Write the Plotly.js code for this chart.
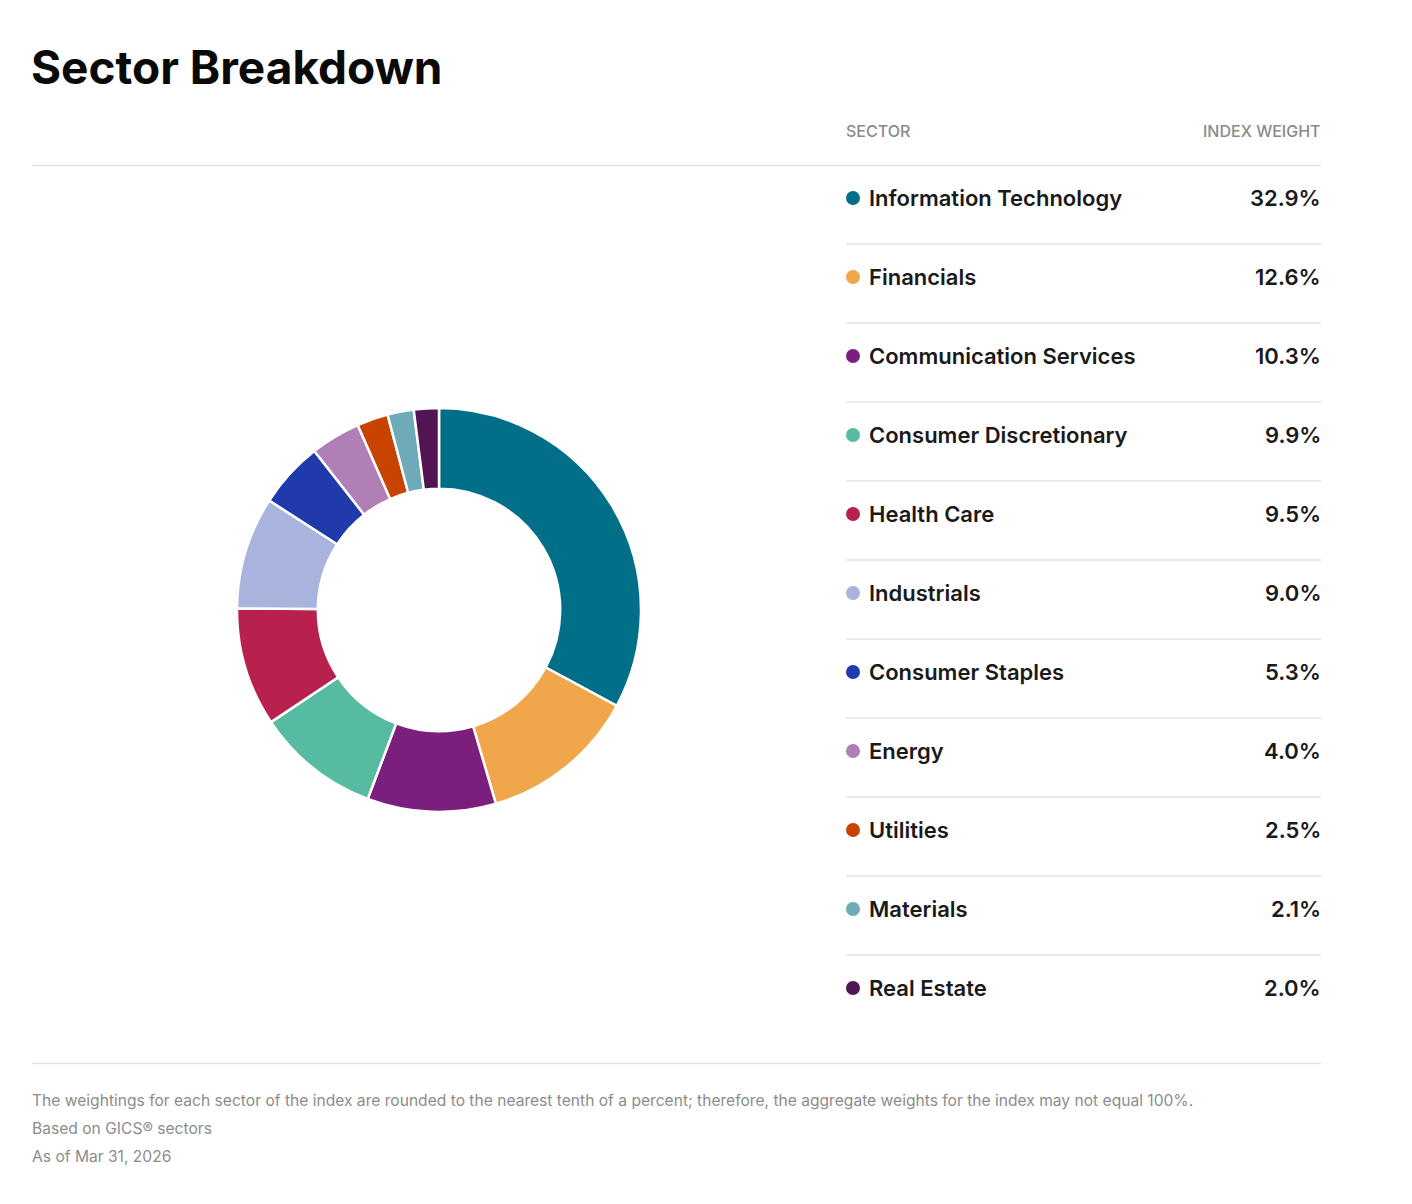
<!DOCTYPE html>
<html>
<head>
<meta charset="utf-8">
<script src="https://cdn.plot.ly/plotly-3.0.1.min.js"></script>
<style>
html,body{margin:0;padding:0;background:#fff;}
#chart{width:1412px;height:1204px;}
</style>
</head>
<body>
<div id="chart"></div>
<script>
// ---- data ----
var sectors = ["Information Technology","Financials","Communication Services","Consumer Discretionary","Health Care","Industrials","Consumer Staples","Energy","Utilities","Materials","Real Estate"];
var weights = [32.9,12.6,10.3,9.9,9.5,9.0,5.3,4.0,2.5,2.1,2.0];
var colors = ["#016F87","#F0A64A","#7A1F7E","#56BBA1","#B8204E","#A9B4DE","#1F3AAA","#B07FB6","#C84200","#6FAAB9","#521452"];
var titleText = "Sector Breakdown";
var headerLeft = "SECTOR";
var headerRight = "INDEX WEIGHT";
var footnotes = [
  "The weightings for each sector of the index are rounded to the nearest tenth of a percent; therefore, the aggregate weights for the index may not equal 100%.",
  "Based on GICS\u00ae sectors",
  "As of Mar 31, 2026"
];

// ---- layout helpers (pixel frame) ----
var W = 1412, H = 1204;
var FONT = "Inter, 'Liberation Sans', Arial, sans-serif";
var rowY0 = 198, rowStep = 79.0;
var tableL = 846, tableR = 1321;
var rowYs = sectors.map(function(_, i){ return rowY0 + rowStep * i; });

var pie = {
  type: "pie",
  labels: sectors,
  values: weights,
  sort: false,
  direction: "clockwise",
  rotation: 0,
  hole: 0.6,
  textinfo: "none",
  hoverinfo: "label+value",
  marker: {colors: colors, line: {color: "#ffffff", width: 2.5}},
  domain: {x: [237/W, 641/W], y: [1 - 812/H, 1 - 408/H]},
  showlegend: false
};

var dots = {
  type: "scatter",
  mode: "markers",
  x: sectors.map(function(){ return tableL + 7; }),
  y: rowYs,
  marker: {color: colors, size: 14, line: {width: 0}},
  hoverinfo: "skip",
  showlegend: false,
  xaxis: "x", yaxis: "y"
};

var annotations = [];
var shapes = [];
function ann(o){ o.xref="x"; o.yref="y"; o.showarrow=false; o.borderpad=0; o.borderwidth=0; annotations.push(o); }

// header
ann({x: tableL, y: 131, text: headerLeft, xanchor:"left", yanchor:"middle",
  font:{family:FONT, size:16, color:"#8a8a8a", weight:500}});
ann({x: tableR, y: 131, text: headerRight, xanchor:"right", yanchor:"middle",
  font:{family:FONT, size:16, color:"#8a8a8a", weight:500}});

// rows
sectors.forEach(function(s, i){
  ann({x: tableL + 23, y: rowYs[i], text: s, xanchor:"left", yanchor:"middle",
    font:{family:FONT, size:22, color:"#1a1a1a", weight:600}});
  ann({x: tableR, y: rowYs[i], text: weights[i].toFixed(1) + "%", xanchor:"right", yanchor:"middle",
    font:{family:FONT, size:22, color:"#1a1a1a", weight:600}});
  if (i < sectors.length - 1) {
    var yy = rowYs[i] + rowStep / 2 + 6.5;
    shapes.push({type:"line", xref:"x", yref:"y", x0: tableL, x1: tableR, y0: yy, y1: yy, line:{color:"#d4d4d4", width:1}});
  }
});

// full-width rules
shapes.push({type:"line", xref:"x", yref:"y", x0: 32, x1: tableR, y0: 165.5, y1: 165.5, line:{color:"#e2e2e2", width:1.5}});
shapes.push({type:"line", xref:"x", yref:"y", x0: 32, x1: tableR, y0: 1063.5, y1: 1063.5, line:{color:"#e2e2e2", width:1.5}});

// footnotes
footnotes.forEach(function(t, i){
  ann({x: 32, y: 1100 + 28 * i, text: t, xanchor:"left", yanchor:"middle",
    font:{family:FONT, size:15.6, color:"#8c8c8c", weight:400}});
});

var layout = {
  width: W, height: H,
  margin: {l:0, r:0, t:0, b:0, pad:0},
  paper_bgcolor: "#ffffff",
  plot_bgcolor: "rgba(0,0,0,0)",
  title: {text: titleText, xref:"container", yref:"container", x: 31/W, xanchor:"left", y: 1 - 68/H, yanchor:"middle",
    font:{family:FONT, size:46, color:"#0a0a0a", weight:700}},
  xaxis: {range:[0, W], domain:[0,1], visible:false, fixedrange:true},
  yaxis: {range:[H, 0], domain:[0,1], visible:false, fixedrange:true},
  annotations: annotations,
  shapes: shapes,
  showlegend: false,
  hovermode: "closest"
};

Plotly.newPlot("chart", [pie, dots], layout, {displayModeBar:false});
</script>
</body>
</html>
